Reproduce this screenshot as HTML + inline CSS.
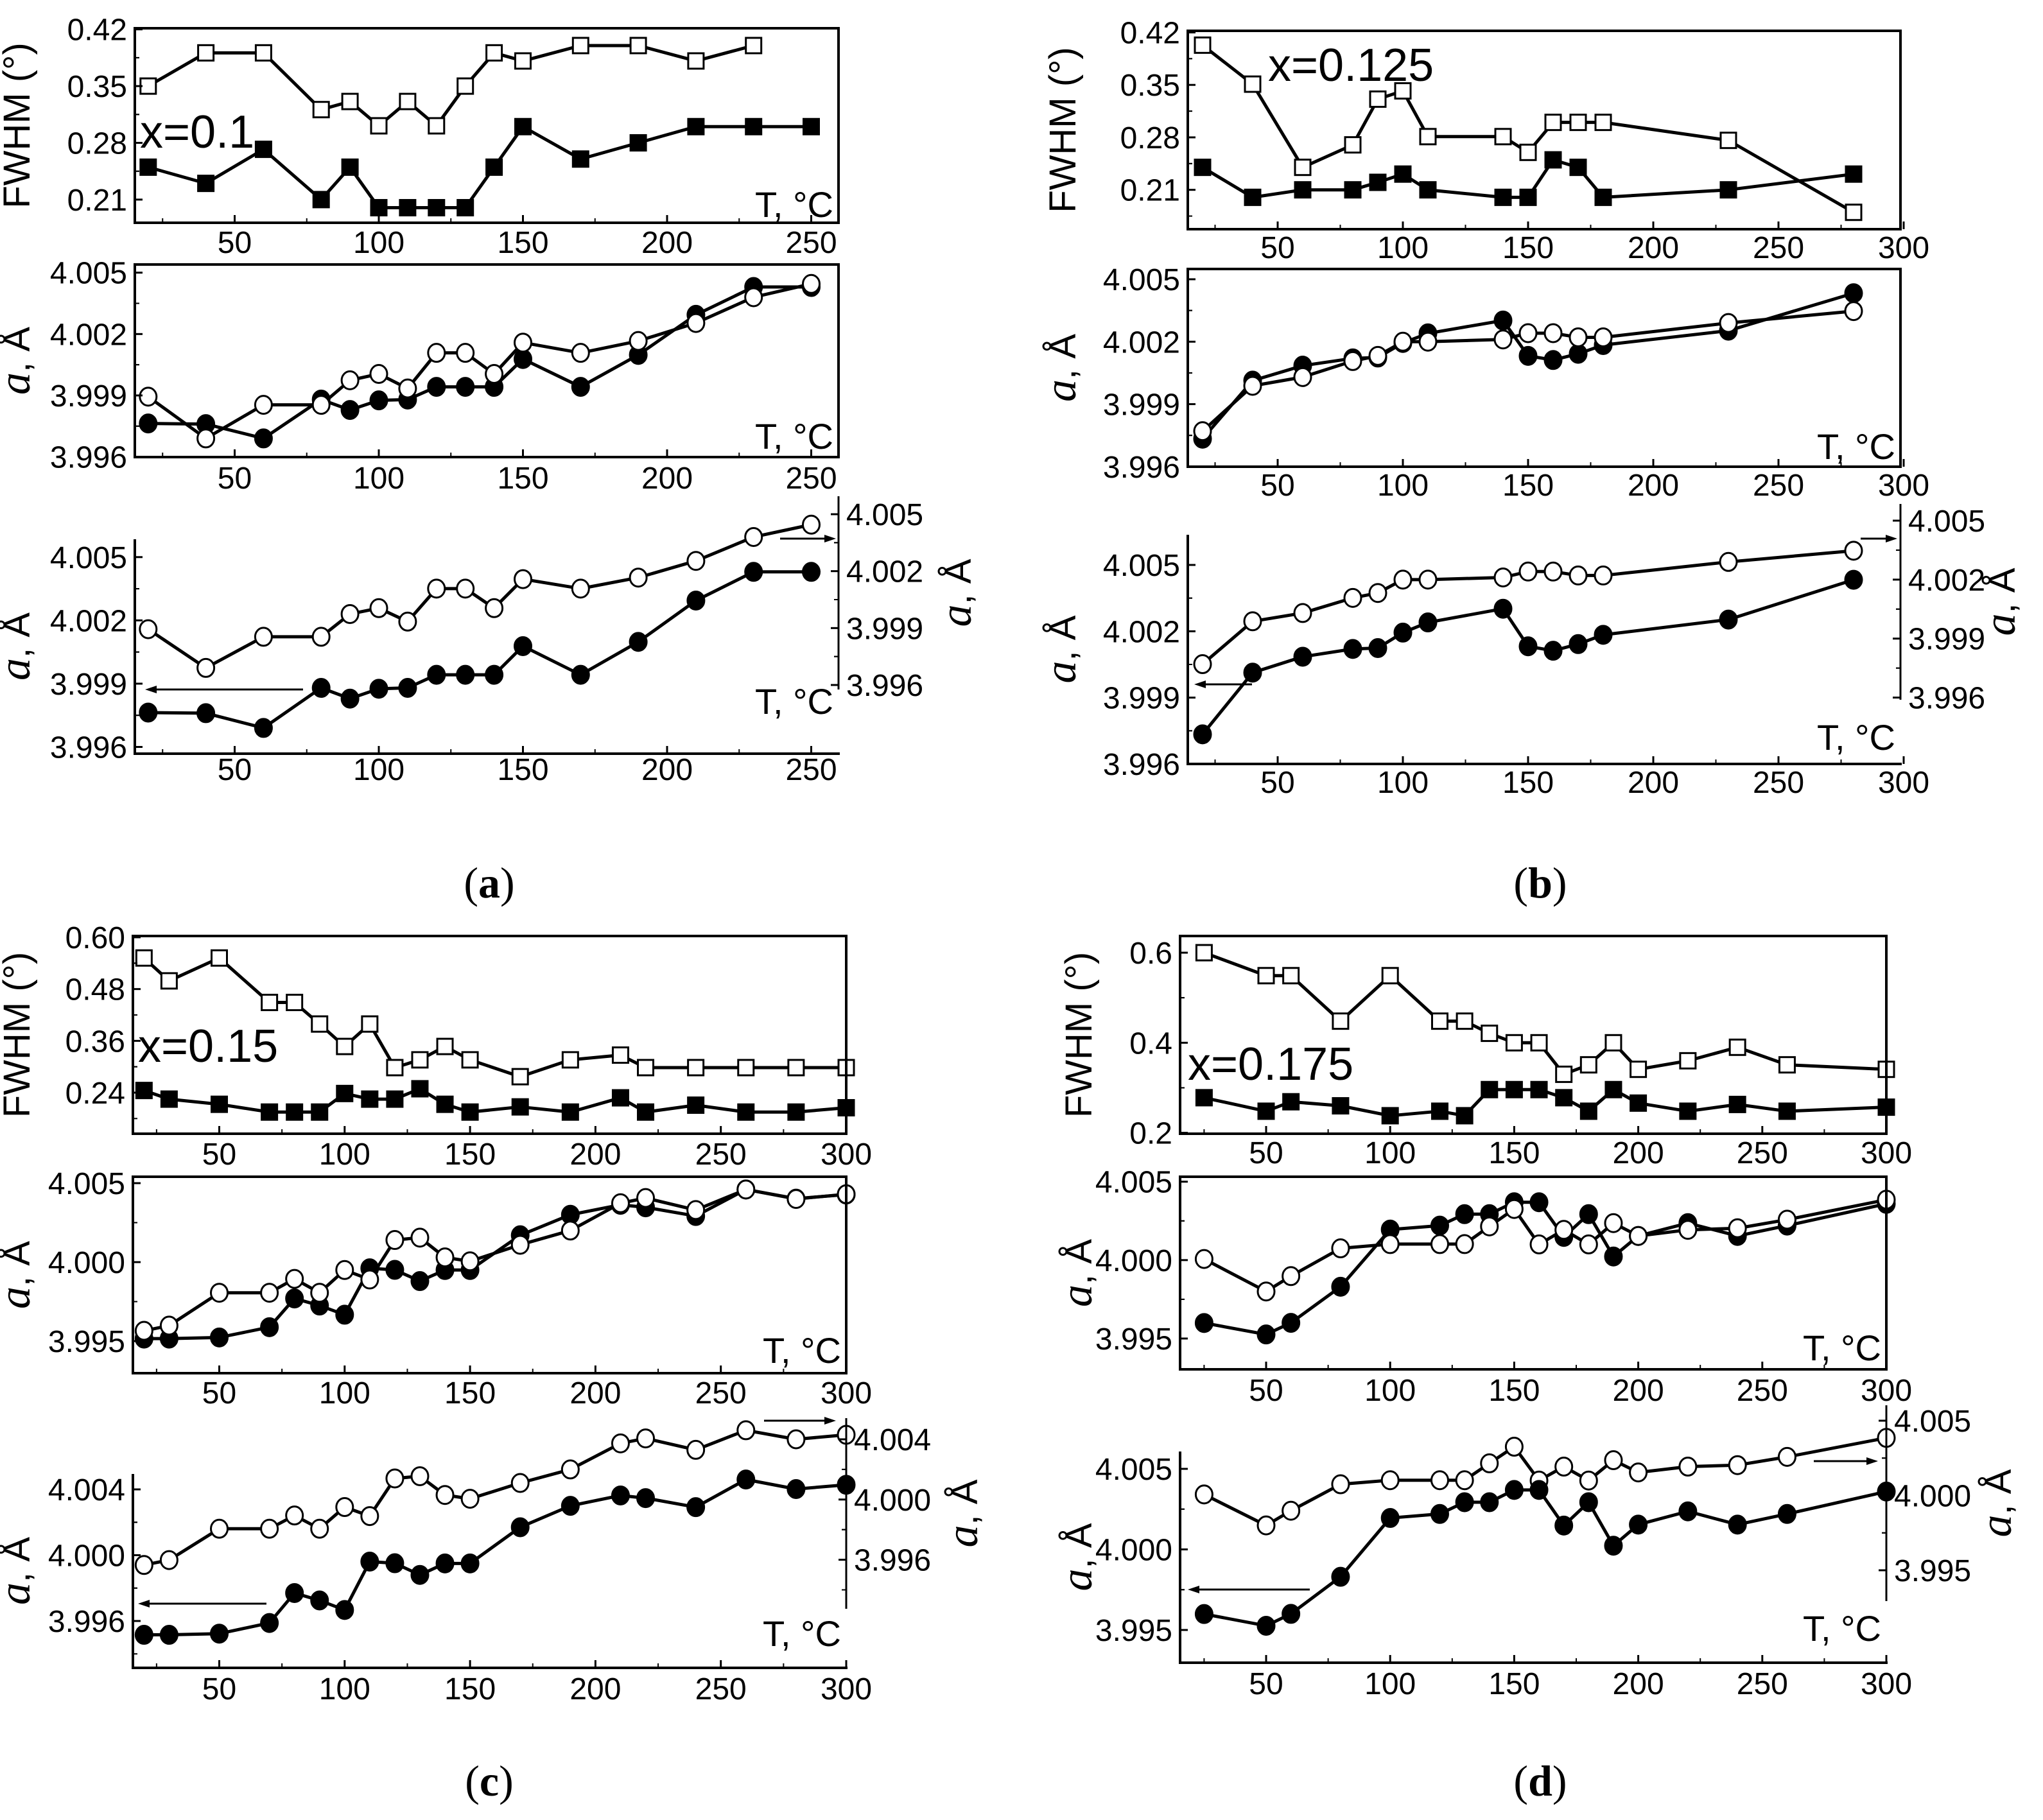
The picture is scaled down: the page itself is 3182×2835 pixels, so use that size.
<!DOCTYPE html>
<html><head><meta charset="utf-8"><style>
html,body{margin:0;padding:0;background:#fff;}
svg{display:block;}
text{font-family:"Liberation Sans",Arial,sans-serif;fill:#000;}
.cap{font-family:"Liberation Serif",serif;}
</style></head><body>
<svg id="fig" xmlns="http://www.w3.org/2000/svg" width="3182" height="2835" viewBox="0 0 3182 2835">
<rect width="3182" height="2835" fill="#fff"/>
<text class="cap" x="762" y="1398" font-size="68" text-anchor="middle">(<tspan font-weight="bold">a</tspan>)</text>
<text class="cap" x="2399" y="1398" font-size="68" text-anchor="middle">(<tspan font-weight="bold">b</tspan>)</text>
<text class="cap" x="762" y="2797" font-size="68" text-anchor="middle">(<tspan font-weight="bold">c</tspan>)</text>
<text class="cap" x="2399" y="2797" font-size="68" text-anchor="middle">(<tspan font-weight="bold">d</tspan>)</text>
</svg>
<script>
// ---- data ----
const aT=[20,40,60,80,90,100,110,120,130,140,150,170,190,210,230,250];
const aFwhmOpen=[0.35,0.391,0.391,0.321,0.331,0.301,0.331,0.301,0.35,0.391,0.381,0.40,0.40,0.381,0.40,null];
const aFwhmFilled=[0.25,0.23,0.272,0.21,0.25,0.20,0.20,0.20,0.20,0.25,0.30,0.26,0.28,0.30,0.30,0.30];
const aLatFilled=[3.99763,3.9976,3.9969,3.9988,3.99829,3.99876,3.9988,3.99942,3.99942,3.99942,4.00078,3.99942,4.00098,4.00294,4.0043,4.0043];
const aLatOpen=[3.99894,3.9969,3.99854,3.99854,3.99974,4.00005,3.99934,4.00108,4.00108,4.00005,4.00158,4.00108,4.00166,4.00254,4.0038,4.00445];

const bT=[20,40,60,80,90,100,110,140,150,160,170,180,230,280];
const bFwhmOpen=[0.403,0.351,0.24,0.27,0.331,0.342,0.281,0.281,0.26,0.30,0.30,0.30,0.276,0.18];
const bFwhmFilled=[0.24,0.20,0.21,0.21,0.22,0.231,0.21,0.20,0.20,0.25,0.24,0.20,0.21,0.231];
const bLatFilled=[3.99734,4.00013,4.00085,4.0012,4.00124,4.00194,4.0024,4.00302,4.00132,4.00112,4.00142,4.00184,4.00253,4.00433];
const bLatOpen=[3.9977,3.99988,4.0003,4.00107,4.00132,4.002,4.002,4.00211,4.00241,4.00241,4.00221,4.00221,4.0029,4.00347];

const cT=[20,30,50,70,80,90,100,110,120,130,140,150,170,190,210,220,240,260,280,300];
const cFwhmOpen=[0.552,0.499,0.552,0.449,0.449,0.399,0.347,0.399,0.298,0.316,0.347,0.316,0.277,0.316,0.327,0.298,0.298,0.298,0.298,0.298];
const cFwhmFilled=[0.245,0.225,0.213,0.195,0.195,0.195,0.238,0.225,0.225,0.249,0.213,0.195,0.207,0.195,0.228,0.195,0.211,0.195,0.195,0.205];
const cLatFilled=[3.99516,3.99516,3.99523,3.99588,3.9977,3.99725,3.99667,3.99961,3.99951,3.9988,3.9995,3.9995,4.0017,4.003,4.00363,4.00347,4.00292,4.0046,4.00402,4.00428];
const cLatOpen=[3.99565,3.99598,3.99806,3.99806,3.99894,3.99806,3.9995,3.9989,4.0014,4.00155,4.0003,4.00005,4.0011,4.002,4.00373,4.00406,4.0033,4.0046,4.004,4.0043];

const dT=[25,50,60,80,100,120,130,140,150,160,170,180,190,200,220,240,260,300];
const dFwhmOpen=[0.6,0.549,0.549,0.448,0.549,0.448,0.448,0.421,0.4,0.4,0.33,0.351,0.4,0.341,0.36,0.39,0.351,0.341];
const dFwhmFilled=[0.278,0.248,0.269,0.26,0.238,0.248,0.238,0.296,0.296,0.296,0.278,0.248,0.296,0.266,0.248,0.263,0.248,0.257];
const dLatFilled=[3.99599,3.99526,3.996,3.9983,4.00195,4.0022,4.00293,4.00293,4.00369,4.00369,4.00148,4.00293,4.00023,4.00154,4.00236,4.00154,4.0022,4.00359];
const dLatOpen=[4.00007,3.998,3.99898,4.00075,4.00102,4.00102,4.00102,4.00215,4.00326,4.001,4.00193,4.001,4.00236,4.00154,4.00193,4.00203,4.00258,4.00385];

const xTicksA=[50,100,150,200,250];
const xTicks300=[50,100,150,200,250,300];
const fwhmTicksAB=["0.42","0.35","0.28","0.21"];
const fwhmTicksC=["0.60","0.48","0.36","0.24"];
const fwhmTicksD=["0.6","0.4","0.2"];
const latTicksAB=["4.005","4.002","3.999","3.996"];
const latTicks5=["4.005","4.000","3.995"];
const latTicksC=["4.004","4.000","3.996"];

// ---- drawing ----
const NS="http://www.w3.org/2000/svg";
const svg=document.getElementById('fig');
const TF=48;
function mk(tag,attrs,parent){const e=document.createElementNS(NS,tag);for(const k in attrs)e.setAttribute(k,attrs[k]);(parent||svg).appendChild(e);return e;}
function lin(v1,p1,v2,p2){const k=(p2-p1)/(v2-v1);return v=>p1+(v-v1)*k;}

function series(g,xs,T,vals,yf,kind,filled){
  let pts=[];
  for(let i=0;i<T.length;i++){if(vals[i]!==null&&vals[i]!==undefined)pts.push([xs(T[i]),yf(vals[i])]);}
  const pl=mk('polyline',{points:pts.map(p=>p.join(',')).join(' '),fill:'none',stroke:'#000','stroke-width':5,'stroke-linejoin':'round'},g);
  
  
  pts.forEach(p=>{
    let m;
    if(kind==='square'){m=mk('rect',{x:p[0]-12,y:p[1]-12,width:24,height:24,fill:filled?'#000':'#fff',stroke:'#000','stroke-width':3},g);}
    else{m=mk('ellipse',{cx:p[0],cy:p[1],rx:13,ry:14,fill:filled?'#000':'#fff',stroke:'#000','stroke-width':3},g);}
    
    
  });
}
function xAxis(g,xs,x0,x1,yb,ticks,labY){
  ticks.forEach(t=>{
    const X=xs(t);
    const tk=mk('line',{x1:X,y1:yb,x2:X,y2:yb-12,stroke:'#000','stroke-width':3},g);
    
    
    const Xm=xs(t-25);
    if(Xm>x0+3){const mt=mk('line',{x1:Xm,y1:yb,x2:Xm,y2:yb-7,stroke:'#000','stroke-width':2},g);
      
      }
    const tx=mk('text',{x:X,y:labY+17,'font-size':TF,'text-anchor':'middle'},g);tx.textContent=t;
    
    
  });
}
function yAxis(g,yf,xa,labels,side,ya,yb){
  const dir=side==='left'?1:-1;
  const vals=labels.map(Number);
  const step=vals[0]-vals[1];
  vals.forEach((v,i)=>{
    const Y=yf(v);
    const tk=mk('line',{x1:xa,y1:Y,x2:xa+12*dir,y2:Y,stroke:'#000','stroke-width':3},g);
    
    
    [v-step/2,v+step/2].forEach(mv=>{const My=yf(mv);if(My>ya+3&&My<yb-3){
      const mt=mk('line',{x1:xa,y1:My,x2:xa+7*dir,y2:My,stroke:'#000','stroke-width':2},g);
      
      }});
    const tx=mk('text',{x:side==='left'?xa-12:xa+12,y:Y+17,'font-size':TF,'text-anchor':side==='left'?'end':'start'},g);
    tx.textContent=labels[i];
    
    
  });
}
function line(g,x1,y1,x2,y2,w,name){const l=mk('line',{x1,y1,x2,y2,stroke:'#000','stroke-width':w},g);
  
  return l;}
function txt(g,x,y,s,size,name,extra){const t=mk('text',Object.assign({x,y,'font-size':size},extra||{}),g);t.textContent=s;
  
  return t;}
function yTitle(g,x,y,isFwhm){
  const t=mk('text',{x:0,y:0,'font-size':58,'text-anchor':'middle',transform:`translate(${x},${y}) rotate(-90)`},g);
  if(isFwhm){t.textContent='FWHM (°)';}
  else{const a=document.createElementNS(NS,'tspan');a.setAttribute('font-family','Liberation Serif, serif');a.setAttribute('font-style','italic');a.setAttribute('font-size','70');a.textContent='a';t.appendChild(a);t.appendChild(document.createTextNode(', Å'));}
  
  
}
function arrow(g,x1,y,x2,name){
  line(g,x1,y,x2+(x2>x1?-14:14),y,3,name);
  const d=x2>x1?-1:1;
  const p=mk('polygon',{points:`${x2},${y} ${x2+18*d},${y-6} ${x2+18*d},${y+6}`,fill:'#000'},g);
  
  
}

function panel(P){
  const g=mk('g',{});
  
  
  const xs=lin(0,P.x0,1,P.x0+P.kx);
  const L=P.fl,R=P.fr;
  const g1=mk('g',{},g);
  
  
  const yF=lin(P.f.a[0],P.f.a[1],P.f.b[0],P.f.b[1]);
  series(g1,xs,P.T,P.fo,yF,'square',false);
  series(g1,xs,P.T,P.ff,yF,'square',true);
  const r1=mk('rect',{x:L,y:P.f.t,width:R-L,height:P.f.btm-P.f.t,fill:'none',stroke:'#000','stroke-width':4},g1);
  
  
  yAxis(g1,yF,L,P.fT,'left',P.f.t,P.f.btm);
  xAxis(g1,xs,L,R,P.f.btm,P.xt,P.f.lab);
  yTitle(g1,P.yt,(P.f.t+P.f.btm)/2,true);
  txt(g1,P.xl[0],P.xl[1],P.xl[2],72,'composition-label');
  if(P.f.tl)txt(g1,R-8,P.f.tl,'T, °C',56,'x-axis-title',{'text-anchor':'end'});
  const g2=mk('g',{},g);
  
  
  const yM=lin(P.m.a[0],P.m.a[1],P.m.b[0],P.m.b[1]);
  series(g2,xs,P.T,P.lf,yM,'circle',true);
  series(g2,xs,P.T,P.lo,yM,'circle',false);
  const r2=mk('rect',{x:L,y:P.m.t,width:R-L,height:P.m.btm-P.m.t,fill:'none',stroke:'#000','stroke-width':4},g2);
  
  
  yAxis(g2,yM,L,P.mT,'left',P.m.t,P.m.btm);
  xAxis(g2,xs,L,R,P.m.btm,P.xt,P.m.lab);
  yTitle(g2,P.yt,(P.m.t+P.m.btm)/2,false);
  txt(g2,R-8,P.m.tl,'T, °C',56,'x-axis-title',{'text-anchor':'end'});
  const g3=mk('g',{},g);
  
  
  const yL=lin(P.b.la[0],P.b.la[1],P.b.lb[0],P.b.lb[1]);
  const yR=lin(P.b.ra[0],P.b.ra[1],P.b.rb[0],P.b.rb[1]);
  series(g3,xs,P.T,P.lo,yR,'circle',false);
  series(g3,xs,P.T,P.lf,yL,'circle',true);
  line(g3,L,P.b.lt,L,P.b.btm,4,'left-y-axis');
  line(g3,L-2,P.b.btm,R+2,P.b.btm,4,'x-axis');
  line(g3,R,P.b.rt,R,P.b.rbtm,3,'right-y-axis');
  yAxis(g3,yL,L,P.bT,'left',P.b.lt,P.b.btm);
  yAxis(g3,yR,R,P.bT2,'right',P.b.rt,P.b.rbtm);
  xAxis(g3,xs,L,R,P.b.btm,P.xt,P.b.lab);
  yTitle(g3,P.yt,(P.b.lt+P.b.btm)/2,false);
  yTitle(g3,P.ytr,(P.b.rt+P.b.rbtm)/2,false);
  txt(g3,R-8,P.b.tl,'T, °C',56,'x-axis-title',{'text-anchor':'end'});
  arrow(g3,P.b.al[0],P.b.al[2],P.b.al[1],'left-axis-arrow');
  arrow(g3,P.b.ar[0],P.b.ar[2],P.b.ar[1],'right-axis-arrow');
}

panel({id:'a',T:aT,fo:aFwhmOpen,ff:aFwhmFilled,lf:aLatFilled,lo:aLatOpen,x0:141,kx:4.49,fl:210,fr:1306,xt:xTicksA,
  fT:fwhmTicksAB,mT:latTicksAB,bT:latTicksAB,bT2:latTicksAB,yt:46,ytr:1512,xl:[218,230,'x=0.1'],
  f:{a:[0.42,45.7],b:[0.21,310.9],t:44,btm:347,lab:377,tl:338},
  m:{a:[4.005,424.7],b:[3.996,711.6],t:412,btm:712,lab:744,tl:699},
  b:{la:[4.005,867.8],lb:[3.996,1163.5],ra:[4.005,801],rb:[3.996,1067],lt:840,btm:1174,rt:773,rbtm:1074,lab:1198,tl:1112,al:[472,226,1074],ar:[1215,1302,839]}});
panel({id:'b',T:bT,fo:bFwhmOpen,ff:bFwhmFilled,lf:bLatFilled,lo:bLatOpen,x0:1795,kx:3.90,fl:1850,fr:2960,xt:xTicks300,
  fT:fwhmTicksAB,mT:latTicksAB,bT:latTicksAB,bT2:latTicksAB,yt:1675,ytr:3138,xl:[1975,126,'x=0.125'],
  f:{a:[0.42,50.5],b:[0.21,295.7],t:48,btm:357,lab:385,tl:null},
  m:{a:[4.005,435],b:[3.996,726.8],t:419,btm:727,lab:755,tl:715},
  b:{la:[4.005,880],lb:[3.996,1190],ra:[4.005,811],rb:[3.996,1086.6],lt:833,btm:1190,rt:785,rbtm:1090,lab:1218,tl:1168,al:[1950,1860,1066],ar:[2898,2955,839]}});
panel({id:'c',T:cT,fo:cFwhmOpen,ff:cFwhmFilled,lf:cLatFilled,lo:cLatOpen,x0:146.2,kx:3.906,fl:207,fr:1318,xt:xTicks300,
  fT:fwhmTicksC,mT:latTicks5,bT:latTicksC,bT2:latTicksC,yt:46,ytr:1522,xl:[215,1654,'x=0.15'],
  f:{a:[0.60,1460],b:[0.24,1702],t:1458,btm:1766,lab:1797,tl:null},
  m:{a:[4.005,1843],b:[3.995,2089],t:1833,btm:2139,lab:2169,tl:2123},
  b:{la:[4.004,2320],lb:[3.996,2525],ra:[4.004,2242],rb:[3.996,2429.6],lt:2296,btm:2598,rt:2209,rbtm:2506,lab:2630,tl:2564,al:[415,215,2498],ar:[1190,1302,2213]}});
panel({id:'d',T:dT,fo:dFwhmOpen,ff:dFwhmFilled,lf:dLatFilled,lo:dLatOpen,x0:1778.8,kx:3.864,fl:1838,fr:2938,xt:xTicks300,
  fT:fwhmTicksD,mT:latTicks5,bT:latTicks5,bT2:latTicks5,yt:1700,ytr:3132,xl:[1850,1682,'x=0.175'],
  f:{a:[0.6,1484],b:[0.2,1764.6],t:1458,btm:1766,lab:1795,tl:null},
  m:{a:[4.005,1840.7],b:[3.995,2085],t:1833,btm:2133,lab:2165,tl:2119},
  b:{la:[4.005,2288],lb:[3.995,2539],ra:[4.005,2213],rb:[3.995,2446],lt:2261,btm:2590,rt:2189,rbtm:2494,lab:2622,tl:2556,al:[2040,1850,2476],ar:[2825,2925,2276]}});
</script>
</body></html>
